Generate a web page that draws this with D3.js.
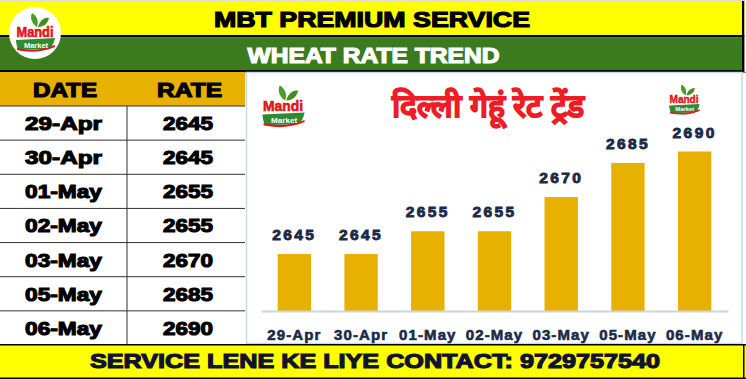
<!DOCTYPE html>
<html>
<head>
<meta charset="utf-8">
<script src="https://cdn.jsdelivr.net/npm/d3@7"></script>
<style>
  html, body { margin: 0; padding: 0; background: #fff; }
  svg { display: block; }
  text { font-family: "Liberation Sans", Arial, sans-serif; font-weight: 700; }
</style>
</head>
<body>
<svg id="chart" width="746" height="379"></svg>
<script>
// ---- data ----
const dates = ["29-Apr", "30-Apr", "01-May", "02-May", "03-May", "05-May", "06-May"];
const rates = [2645, 2645, 2655, 2655, 2670, 2685, 2690];
const headerTitle = "MBT PREMIUM SERVICE";
const subTitle = "WHEAT RATE TREND";
const chartTitle = "दिल्ली गेहूं रेट ट्रेंड";
const tableHeads = ["DATE", "RATE"];
const footer = "SERVICE LENE KE LIYE CONTACT: 9729757540";

const W = 746, H = 379;
const svg = d3.select("#chart");

const YELLOW = "#FFFF00", GREEN = "#3B7A1E", ORANGE = "#E8B000", BAR = "#E8B000";
const NAVY = "#1B2A47", RED = "#EE1C25";

// ---- banners ----
svg.append("rect").attr("x", 0).attr("y", 0).attr("width", W).attr("height", H).attr("fill", "#fff");
svg.append("rect").attr("x", 0).attr("y", 0).attr("width", W).attr("height", 36).attr("fill", YELLOW);
svg.append("rect").attr("x", 0).attr("y", 35).attr("width", W).attr("height", 2.5).attr("fill", "#000");
svg.append("rect").attr("x", 0).attr("y", 37.5).attr("width", W).attr("height", 32.5).attr("fill", GREEN);
svg.append("rect").attr("x", 0).attr("y", 70).attr("width", W).attr("height", 2.5).attr("fill", "#000");
svg.append("rect").attr("x", 742).attr("y", 0).attr("width", 2.5).attr("height", 72).attr("fill", "#000");
svg.append("rect").attr("x", 744.5).attr("y", 0).attr("width", 1.5).attr("height", 72).attr("fill", "#fff");
svg.append("rect").attr("x", 0).attr("y", 0).attr("width", W).attr("height", 1).attr("fill", "#ddd");

svg.append("text").attr("x", 372).attr("y", 27).attr("text-anchor", "middle")
  .attr("font-size", 22).attr("fill", "#000").attr("stroke", "#000").attr("stroke-width", 1.2)
  .attr("textLength", 316).attr("lengthAdjust", "spacingAndGlyphs").text(headerTitle);
svg.append("text").attr("x", 373.5).attr("y", 63).attr("text-anchor", "middle")
  .attr("font-size", 22).attr("fill", "#fff").attr("stroke", "#fff").attr("stroke-width", 1.2)
  .attr("textLength", 252).attr("lengthAdjust", "spacingAndGlyphs").text(subTitle);

// ---- table ----
const tX0 = 0, tX1 = 245, tMid = 127, tHeadY = 72, tRowY0 = 106, rowH = (345 - 106) / dates.length;
svg.append("rect").attr("x", tX0).attr("y", tHeadY).attr("width", tX1).attr("height", tRowY0 - tHeadY).attr("fill", ORANGE);
svg.append("text").attr("x", 65).attr("y", 97).attr("text-anchor", "middle").attr("font-size", 21)
  .attr("fill", "#000").attr("stroke", "#000").attr("stroke-width", 1.2)
  .attr("textLength", 64).attr("lengthAdjust", "spacingAndGlyphs").text(tableHeads[0]);
svg.append("text").attr("x", 189.5).attr("y", 97).attr("text-anchor", "middle").attr("font-size", 21)
  .attr("fill", "#000").attr("stroke", "#000").attr("stroke-width", 1.2)
  .attr("textLength", 65).attr("lengthAdjust", "spacingAndGlyphs").text(tableHeads[1]);

const rows = svg.append("g");
dates.forEach((d, i) => {
  const y = tRowY0 + i * rowH;
  rows.append("line").attr("x1", 0).attr("x2", tX1).attr("y1", y).attr("y2", y).attr("stroke", "#333").attr("stroke-width", 1);
  rows.append("text").attr("x", 63.5).attr("y", y + 24).attr("text-anchor", "middle").attr("font-size", 19)
    .attr("fill", "#000").attr("stroke", "#000").attr("stroke-width", 1.1)
    .attr("textLength", 77).attr("lengthAdjust", "spacingAndGlyphs").text(d);
  rows.append("text").attr("x", 188).attr("y", y + 24).attr("text-anchor", "middle").attr("font-size", 19)
    .attr("fill", "#000").attr("stroke", "#000").attr("stroke-width", 1.1)
    .attr("textLength", 50).attr("lengthAdjust", "spacingAndGlyphs").text(rates[i]);
});
rows.append("line").attr("x1", tMid).attr("x2", tMid).attr("y1", tRowY0).attr("y2", 345).attr("stroke", "#333").attr("stroke-width", 1);

// ---- chart panel ----
svg.append("rect").attr("x", 246.5).attr("y", 72.5).attr("width", 495.5).attr("height", 271)
  .attr("fill", "#fff").attr("stroke", "#C5DBEF").attr("stroke-width", 1.5);

const x = d3.scaleBand().domain(dates).range([261, 728]).paddingInner(0.5).paddingOuter(0.25);
const y = d3.scaleLinear().domain([2620, 2690]).range([311, 151.5]);

svg.append("g").selectAll("rect").data(dates).join("rect")
  .attr("x", d => x(d)).attr("width", x.bandwidth())
  .attr("y", (d, i) => y(rates[i])).attr("height", (d, i) => y(2620) - y(rates[i]))
  .attr("fill", BAR);

const xAxis = svg.append("g").attr("transform", "translate(0,311)")
  .call(d3.axisBottom(x).tickSize(0).tickPadding(18));
xAxis.select(".domain").attr("stroke", "#C5D6E6").attr("stroke-width", 2);
xAxis.selectAll("text").attr("font-family", "Liberation Sans, Arial, sans-serif").attr("font-weight", 700)
  .attr("font-size", 15).attr("fill", NAVY).attr("stroke", NAVY).attr("stroke-width", 0.6)
  .attr("letter-spacing", 1.1);

svg.append("g").selectAll("text").data(dates).join("text")
  .attr("x", d => x(d) + x.bandwidth() / 2)
  .attr("y", (d, i) => y(rates[i]) - 14)
  .attr("text-anchor", "middle").attr("font-size", 15.5).attr("fill", NAVY)
  .attr("stroke", NAVY).attr("stroke-width", 0.9).attr("letter-spacing", 2.4)
  .text((d, i) => rates[i]);

svg.append("text").attr("x", 488).attr("y", 117).attr("text-anchor", "middle")
  .attr("font-family", "'Noto Sans Devanagari', 'Noto Sans', sans-serif").attr("font-weight", 700)
  .attr("font-size", 32).attr("fill", RED).attr("stroke", RED).attr("stroke-width", 1.2)
  .text(chartTitle);

// ---- footer ----
svg.append("rect").attr("x", 0).attr("y", 345).attr("width", W).attr("height", 34).attr("fill", YELLOW);
svg.append("rect").attr("x", 0).attr("y", 344).attr("width", W).attr("height", 1.5).attr("fill", "#000");
svg.append("rect").attr("x", 0).attr("y", 377.5).attr("width", W).attr("height", 1.5).attr("fill", "#000");
svg.append("rect").attr("x", 743).attr("y", 344).attr("width", 1.5).attr("height", 35).attr("fill", "#000");
svg.append("text").attr("x", 375).attr("y", 368).attr("text-anchor", "middle")
  .attr("font-size", 21).attr("fill", "#10132E").attr("stroke", "#10132E").attr("stroke-width", 1.2)
  .attr("textLength", 570).attr("lengthAdjust", "spacingAndGlyphs").text(footer);

// ---- logos ----
function logo(cx, cy, s, circle) {
  const g = svg.append("g").attr("transform", `translate(${cx},${cy}) scale(${s})`);
  if (circle) g.append("circle").attr("r", 26).attr("fill", "#fff");
  g.append("path").attr("d", "M2,-6 C-4,-10 -5,-16 -3,-20 C2,-17 4,-12 2,-6 Z").attr("fill", "#4C9A2A");
  g.append("path").attr("d", "M3,-6 C5,-13 10,-16 14,-15 C13,-10 9,-6 3,-6 Z").attr("fill", "#3E8E22");
  g.append("text").attr("x", 0).attr("y", 4).attr("text-anchor", "middle")
    .attr("font-size", 14).attr("fill", "#E3151B").attr("stroke", "#E3151B").attr("stroke-width", 0.6)
    .attr("textLength", 37).attr("lengthAdjust", "spacingAndGlyphs").text("Mandi");
  g.append("path").attr("d", "M-19,7 L20,5 C19,10 17,14 14,16 L-17,17 C-18,13 -19,10 -19,7 Z").attr("fill", "#2E8B2E");
  g.append("path").attr("d", "M-18,15 C-5,18 8,17 20,12 L20,14 C8,19 -5,20 -18,17 Z").attr("fill", "#E3151B");
  g.append("text").attr("x", 1).attr("y", 14.5).attr("text-anchor", "middle")
    .attr("font-size", 7.5).attr("fill", "#fff").text("Market");
}
logo(35, 33, 1, true);
logo(283, 107, 1.08, false);
logo(684, 100, 0.78, false);
</script>
</body>
</html>
